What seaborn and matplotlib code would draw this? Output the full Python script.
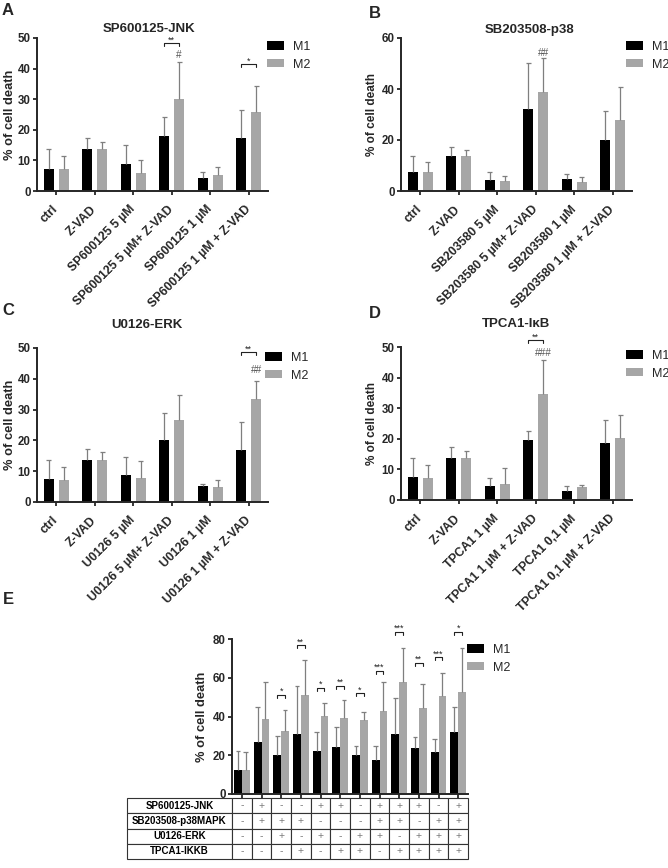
import numpy as np
import pandas as pd
import seaborn as sns
import matplotlib
matplotlib.use("Agg")
import matplotlib.pyplot as plt
from matplotlib.patches import Patch

# ---------------- data ----------------
A_title = "SP600125-JNK"
A_cats = ["ctrl", "Z-VAD", "SP600125 5 µM", "SP600125 5 µM+ Z-VAD", "SP600125 1 µM", "SP600125 1 µM + Z-VAD"]
A_m1 = [7.3, 13.6, 8.9, 18.0, 4.3, 17.3]
A_m1_sd = [6.3, 3.6, 6.0, 6.3, 1.8, 9.3]
A_m2 = [7.2, 13.7, 6.0, 30.0, 5.3, 25.7]
A_m2_sd = [4.1, 2.4, 4.0, 12.0, 2.4, 8.6]

B_title = "SB203508-p38"
B_cats = ["ctrl", "Z-VAD", "SB203580 5 µM", "SB203580 5 µM+ Z-VAD", "SB203580 1 µM", "SB203580 1 µM + Z-VAD"]
B_m1 = [7.4, 13.7, 4.4, 32.0, 4.8, 20.0]
B_m1_sd = [6.3, 3.5, 2.9, 18.3, 1.8, 11.3]
B_m2 = [7.3, 13.8, 3.8, 38.8, 3.4, 27.7]
B_m2_sd = [4.0, 2.2, 2.2, 13.2, 2.2, 12.9]

C_title = "U0126-ERK"
C_cats = ["ctrl", "Z-VAD", "U0126 5 µM", "U0126 5 µM+ Z-VAD", "U0126 1 µM", "U0126 1 µM + Z-VAD"]
C_m1 = [7.4, 13.6, 8.9, 20.0, 5.2, 17.0]
C_m1_sd = [6.2, 3.6, 5.7, 8.8, 0.6, 8.9]
C_m2 = [7.2, 13.7, 7.9, 26.5, 4.9, 33.4]
C_m2_sd = [4.2, 2.5, 5.4, 8.3, 2.2, 6.0]

D_title = "TPCA1-IκB"
D_cats = ["ctrl", "Z-VAD", "TPCA1 1 µM", "TPCA1 1 µM + Z-VAD", "TPCA1 0,1 µM", "TPCA1 0,1 µM + Z-VAD"]
D_m1 = [7.4, 13.6, 4.6, 19.6, 3.0, 18.6]
D_m1_sd = [6.2, 3.6, 2.5, 3.1, 1.6, 7.7]
D_m2 = [7.2, 13.7, 5.3, 34.8, 4.1, 20.4]
D_m2_sd = [4.1, 2.4, 5.0, 11.1, 0.9, 7.3]

E_cats = [f"c{i}" for i in range(1, 13)]
E_m1 = [12.5, 27.0, 20.3, 31.1, 22.2, 24.3, 20.0, 17.5, 30.9, 23.6, 21.6, 32.1]
E_m1_sd = [9.7, 18.0, 9.6, 24.4, 9.8, 10.1, 4.6, 7.3, 18.9, 6.0, 6.8, 13.0]
E_m2 = [12.5, 38.5, 32.6, 51.2, 40.2, 39.2, 38.0, 42.7, 57.7, 44.6, 50.5, 52.7]
E_m2_sd = [9.2, 19.1, 10.8, 17.9, 7.0, 9.2, 4.5, 14.9, 17.9, 12.3, 11.8, 22.9]

# significance annotations (group index, bracket level, text)
A_sig_idx, A_sig_y, A_sig_txt = [3, 5], [48.3, 41.5], ["**", "*"]
A_hash_idx, A_hash_y, A_hash_txt = [3], [44.4], ["#"]
B_sig_idx, B_sig_y, B_sig_txt = [], [], []
B_hash_idx, B_hash_y, B_hash_txt = [3], [54.3], ["##"]
C_sig_idx, C_sig_y, C_sig_txt = [5], [48.6], ["**"]
C_hash_idx, C_hash_y, C_hash_txt = [5], [43.0], ["##"]
D_sig_idx, D_sig_y, D_sig_txt = [3], [52.2], ["**"]
D_hash_idx, D_hash_y, D_hash_txt = [3], [48.0], ["###"]
E_sig_idx = [2, 3, 4, 5, 6, 7, 8, 9, 10, 11]
E_sig_y = [51.2, 76.7, 54.8, 56.0, 52.0, 63.7, 83.8, 67.7, 70.6, 83.8]
E_sig_txt = ["*", "**", "*", "**", "*", "***", "***", "**", "***", "*"]

tbl_labels = ["SP600125-JNK", "SB203508-p38MAPK", "U0126-ERK", "TPCA1-IKKB"]
tbl_jnk = ["-", "+", "-", "-", "+", "+", "-", "+", "+", "+", "-", "+"]
tbl_p38 = ["-", "+", "+", "+", "-", "-", "-", "+", "+", "-", "+", "+"]
tbl_erk = ["-", "-", "+", "-", "+", "-", "+", "+", "-", "+", "+", "+"]
tbl_ikkb = ["-", "-", "-", "+", "-", "+", "+", "-", "+", "+", "+", "+"]

series_names = ["M1", "M2"]
ylabel = "% of cell death"

# ---------------- style ----------------
sns.set_theme(style="ticks")
plt.rcParams["font.family"] = ["Liberation Sans", "DejaVu Sans"]
plt.rcParams["axes.linewidth"] = 1.4
plt.rcParams["xtick.major.width"] = 1.3
plt.rcParams["ytick.major.width"] = 1.3
plt.rcParams["xtick.major.size"] = 3.0
plt.rcParams["ytick.major.size"] = 3.0

M1_COLOR = "#000000"
M2_COLOR = "#a6a6a6"
ERR_COLOR = "#7f7f7f"

W, H = 668, 868
fig = plt.figure(figsize=(W / 100, H / 100), dpi=100)


def add_ax(l, t, r, b):
    return fig.add_axes([l / W, 1 - b / H, (r - l) / W, (b - t) / H])


def px_to_data(ax, px):
    y0, y1 = ax.get_ylim()
    return (y1 - y0) * px / ax.get_window_extent().height


def draw_bars(ax, cats, m1, m1sd, m2, m2sd, gap, ylim, yticks, cap_frac=0.27):
    n = len(cats)
    df = pd.DataFrame({
        "cond": list(cats) * 2,
        "val": list(m1) + list(m2),
        "grp": [series_names[0]] * n + [series_names[1]] * n,
    })
    sns.barplot(data=df, x="cond", y="val", hue="grp", order=list(cats),
                hue_order=series_names,
                palette={series_names[0]: M1_COLOR, series_names[1]: M2_COLOR},
                width=0.78, gap=gap, errorbar=None, saturation=1, linewidth=0,
                legend=False, ax=ax)
    for cont, sd in zip(ax.containers, [m1sd, m2sd]):
        xs = np.array([p.get_x() + p.get_width() / 2 for p in cont])
        ys = np.array([p.get_height() for p in cont])
        tops = ys + np.array(sd)
        hw = cont[0].get_width() * cap_frac
        ax.vlines(xs, ys, tops, colors=ERR_COLOR, lw=0.9, zorder=3)
        ax.hlines(tops, xs - hw, xs + hw, colors=ERR_COLOR, lw=0.9, zorder=3)
    ax.set_ylim(*ylim)
    ax.set_yticks(yticks)
    ax.set_xlim(-0.5, n - 0.5)
    ax.set_xlabel("")
    ax.set_ylabel("")
    sns.despine(ax=ax)
    ax.tick_params(axis="y", labelsize=8.3, pad=1.5)
    for lab in ax.get_yticklabels():
        lab.set_fontweight("bold")


def bar_centers(ax, gi):
    c0 = ax.containers[0][gi]
    c1 = ax.containers[1][gi]
    return c0.get_x() + c0.get_width() / 2, c1.get_x() + c1.get_width() / 2


def add_sig(ax, idxs, ys, txts, fs=6.5):
    d = px_to_data(ax, 3.0)
    for gi, y, t in zip(idxs, ys, txts):
        x1, x2 = bar_centers(ax, gi)
        ax.plot([x1, x1, x2, x2], [y - d, y, y, y - d], color="#222222", lw=0.8,
                clip_on=False, zorder=4)
        ax.text((x1 + x2) / 2, y + d * 0.2, t, ha="center", va="baseline",
                fontsize=fs, color="#222222", clip_on=False)


def add_hash(ax, idxs, ys, txts):
    for gi, y, t in zip(idxs, ys, txts):
        _, x2 = bar_centers(ax, gi)
        ax.text(x2, y, t, ha="center", va="center", fontsize=7.2,
                color="#555555", clip_on=False)


def xlabels(ax, cats):
    ax.set_xticks(range(len(cats)))
    ax.set_xticklabels(cats, rotation=45, ha="right", va="center",
                       rotation_mode="anchor", fontsize=8.8, fontweight="bold")
    ax.tick_params(axis="x", pad=9)


def legend(x, y_center):
    handles = [Patch(facecolor=M1_COLOR, edgecolor="none", label=series_names[0]),
               Patch(facecolor=M2_COLOR, edgecolor="none", label=series_names[1])]
    fig.legend(handles=handles, loc="upper left",
               bbox_to_anchor=(x / W, 1 - (y_center - 7) / H),
               frameon=False, fontsize=9, handlelength=1.36, handleheight=0.65,
               handletextpad=0.7, labelspacing=0.45, borderpad=0, borderaxespad=0)


panels = [
    dict(box=(37, 38, 268, 191), cats=A_cats, m1=A_m1, m1sd=A_m1_sd, m2=A_m2, m2sd=A_m2_sd,
         ylim=(0, 50), yticks=[0, 10, 20, 30, 40, 50], title=A_title, tx=0.485, tpad=4.5,
         sig=(A_sig_idx, A_sig_y, A_sig_txt), hsh=(A_hash_idx, A_hash_y, A_hash_txt),
         yl_fs=9.3, yl_x=-0.09, leg=(267, 48), letter=("A", 2, 15)),
    dict(box=(401, 38, 632, 191), cats=B_cats, m1=B_m1, m1sd=B_m1_sd, m2=B_m2, m2sd=B_m2_sd,
         ylim=(0, 60), yticks=[0, 20, 40, 60], title=B_title, tx=0.558, tpad=3.5,
         sig=(B_sig_idx, B_sig_y, B_sig_txt), hsh=(B_hash_idx, B_hash_y, B_hash_txt),
         yl_fs=8.5, yl_x=-0.1, leg=(626, 48), letter=("B", 369, 18)),
    dict(box=(37, 348, 268, 502), cats=C_cats, m1=C_m1, m1sd=C_m1_sd, m2=C_m2, m2sd=C_m2_sd,
         ylim=(0, 50), yticks=[0, 10, 20, 30, 40, 50], title=C_title, tx=0.474, tpad=14.5,
         sig=(C_sig_idx, C_sig_y, C_sig_txt), hsh=(C_hash_idx, C_hash_y, C_hash_txt),
         yl_fs=9.3, yl_x=-0.09, leg=(265, 359), letter=("C", 2, 315)),
    dict(box=(401, 347, 632, 500), cats=D_cats, m1=D_m1, m1sd=D_m1_sd, m2=D_m2, m2sd=D_m2_sd,
         ylim=(0, 50), yticks=[0, 10, 20, 30, 40, 50], title=D_title, tx=0.498, tpad=14.5,
         sig=(D_sig_idx, D_sig_y, D_sig_txt), hsh=(D_hash_idx, D_hash_y, D_hash_txt),
         yl_fs=8.5, yl_x=-0.1, leg=(626, 357), letter=("D", 369, 318)),
]

for p in panels:
    ax = add_ax(*p["box"])
    draw_bars(ax, p["cats"], p["m1"], p["m1sd"], p["m2"], p["m2sd"], 0.33, p["ylim"], p["yticks"])
    xlabels(ax, p["cats"])
    ax.set_title(p["title"], fontsize=9.5, fontweight="bold", x=p["tx"], pad=p["tpad"])
    ax.set_ylabel(ylabel, fontsize=p["yl_fs"], fontweight="bold")
    ax.yaxis.set_label_coords(p["yl_x"], 0.5)
    add_sig(ax, *p["sig"])
    add_hash(ax, *p["hsh"])
    legend(*p["leg"])
    lt, lx, ly = p["letter"]
    fig.text(lx / W, 1 - ly / H, lt, fontsize=12, fontweight="bold", va="baseline", ha="left")

# ---------------- panel E ----------------
axE = add_ax(232, 639, 468, 794)
draw_bars(axE, E_cats, E_m1, E_m1_sd, E_m2, E_m2_sd, 0.0, (0, 80), [0, 20, 40, 60, 80], cap_frac=0.3)
axE.set_xticks(range(len(E_cats)))
axE.set_xticklabels([""] * len(E_cats))
axE.set_ylabel(ylabel, fontsize=9.3, fontweight="bold")
axE.yaxis.set_label_coords(-0.1, 0.5)
add_sig(axE, E_sig_idx, E_sig_y, E_sig_txt)
legend(467, 651)
fig.text(3 / W, 1 - 604 / H, "E", fontsize=12, fontweight="bold", va="baseline", ha="left")

label_w = 105.0
col_w = 236.0 / 12
total_w = label_w + 12 * col_w
cell_text = [[lab] + row for lab, row in zip(tbl_labels, [tbl_jnk, tbl_p38, tbl_erk, tbl_ikkb])]
tbl = axE.table(cellText=cell_text,
                colWidths=[label_w / total_w] + [col_w / total_w] * 12,
                cellLoc="center",
                bbox=[-label_w / 236.0, -65 / 155.0, total_w / 236.0, 61 / 155.0])
tbl.auto_set_font_size(False)
for (r, c), cell in tbl.get_celld().items():
    cell.set_linewidth(0.8)
    cell.set_edgecolor("#333333")
    t = cell.get_text()
    if c == 0:
        t.set_fontweight("bold")
        t.set_fontsize(7.0)
        t.set_color("black")
    else:
        t.set_fontsize(7.5)
        t.set_color("#7a7a7a")

fig.savefig("out.png", dpi=100)
